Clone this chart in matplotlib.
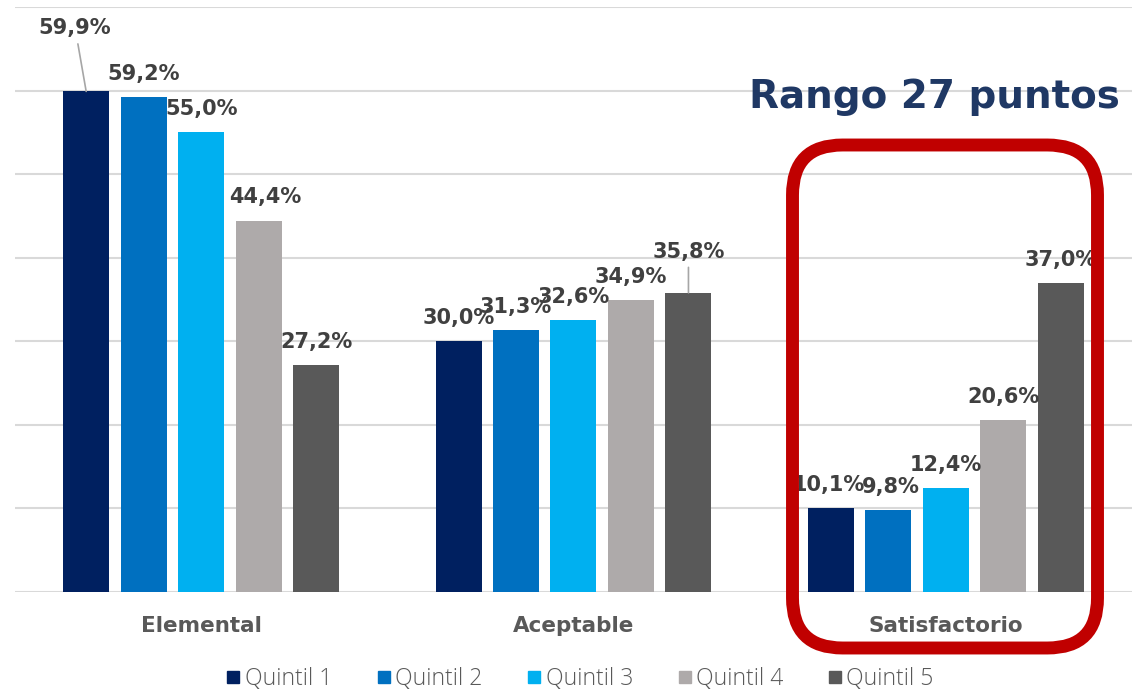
import numpy as np
import matplotlib
matplotlib.use("Agg")
import matplotlib.pyplot as plt
from matplotlib.patches import FancyBboxPatch
from matplotlib.lines import Line2D
from matplotlib.transforms import IdentityTransform

# data
categories = ["Elemental", "Aceptable", "Satisfactorio"]
series = ["Quintil 1", "Quintil 2", "Quintil 3", "Quintil 4", "Quintil 5"]
q1 = [59.9, 30.0, 10.1]
q2 = [59.2, 31.3, 9.8]
q3 = [55.0, 32.6, 12.4]
q4 = [44.4, 34.9, 20.6]
q5 = [27.2, 35.8, 37.0]
values = [q1, q2, q3, q4, q5]
colors = ["#002060", "#0070C0", "#00B0F0", "#AEAAAA", "#595959"]

# label offsets (pixels) that differ from default
label_offsets = {(0, 0): (-11, 63), (3, 0): (7, 24), (4, 1): (0, 41),
                 (0, 2): (-2, 23), (1, 2): (2, 23)}
leader = {(0, 0), (4, 1)}

W, H = 1144, 692
fig = plt.figure(figsize=(W / 100, H / 100), dpi=100)
ax = fig.add_axes([0.0131, 0.1445, 0.9764, 0.8454])

x = np.arange(len(categories))
step = 0.1544
width = 0.1235
for i, (vals, c) in enumerate(zip(values, colors)):
    xs = x + (i - 2) * step
    ax.bar(xs, vals, width, color=c, zorder=3)
    for j, (xx, v) in enumerate(zip(xs, vals)):
        dx, dy = label_offsets.get((i, j), (0, 23))
        txt = f"{v:.1f}%".replace(".", ",")
        arrow = None
        if (i, j) in leader:
            arrow = dict(arrowstyle="-", color="#A6A6A6", lw=1.2, shrinkA=2, shrinkB=0)
        ax.annotate(txt, xy=(xx, v), xytext=(dx, dy), textcoords="offset pixels",
                    ha="center", va="center", fontsize=15, fontweight="bold",
                    color="#404040", arrowprops=arrow, zorder=5)

ax.set_xlim(-0.5, 2.5)
ax.set_ylim(0, 70)
ax.set_yticks(np.arange(0, 71, 10))
ax.yaxis.grid(True, color="#D9D9D9", lw=1.5, zorder=0)
ax.set_axisbelow(True)
ax.tick_params(axis="both", length=0)
ax.set_yticklabels([])
ax.set_xticks(x)
ax.set_xticklabels(categories, fontsize=15.5, fontweight="bold", color="#595959")
ax.tick_params(axis="x", pad=17)
for s in ax.spines.values():
    s.set_visible(False)

# red rounded box around Satisfactorio (pixel coords, origin bottom-left)
bx0, bx1, by_top, by_bot = 792.5, 1097.5, 145, 648
box = FancyBboxPatch((bx0, H - by_bot), bx1 - bx0, by_bot - by_top,
                     boxstyle="round,pad=0,rounding_size=50",
                     transform=IdentityTransform(), fill=False,
                     edgecolor="#C00000", lw=9.3, zorder=10)
fig.patches.append(box)

fig.text(1120 / W, 1 - 97 / H, "Rango 27 puntos", ha="right", va="center",
         fontsize=28, fontweight="bold", color="#1F3864")

handles = [Line2D([], [], marker="s", ls="", color=c, markersize=9) for c in colors]
fig.legend(handles, series, loc="center", bbox_to_anchor=(579 / W, 1 - 679 / H),
           ncol=5, frameon=False, handletextpad=0.1, columnspacing=1.85,
           handlelength=0.8, labelcolor="#595959",
           prop={"family": "Open Sans", "weight": "light", "size": 16.5})

fig.savefig("out.png", dpi=100)
